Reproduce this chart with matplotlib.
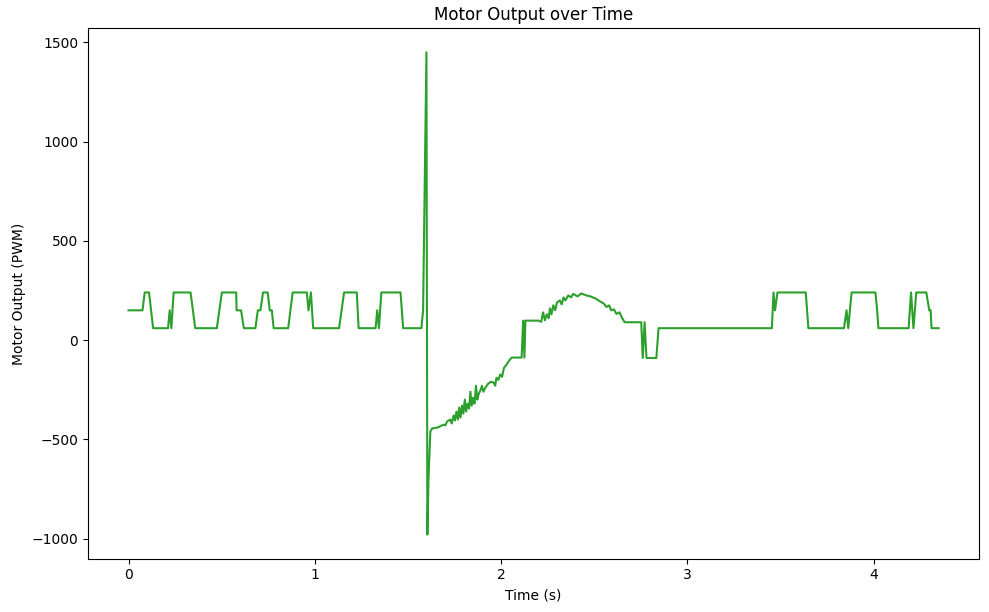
import matplotlib.pyplot as plt

# (time, pwm) samples
time_s = [
    0.0, 0.075, 0.087, 0.11, 0.132, 0.212, 0.221, 0.23, 0.242, 0.333, 0.358,
    0.474, 0.501, 0.578, 0.58, 0.604, 0.619, 0.681, 0.694, 0.708, 0.722,
    0.747, 0.758, 0.769, 0.779, 0.857, 0.881, 0.957, 0.966, 0.979, 0.991,
    1.13, 1.157, 1.225, 1.235, 1.326, 1.335, 1.344, 1.357, 1.46, 1.474,
    1.572, 1.581, 1.599, 1.604, 1.61, 1.62, 1.63, 1.66, 1.69, 1.70, 1.71,
    1.727, 1.735, 1.745, 1.752, 1.76, 1.768, 1.775, 1.782, 1.79, 1.797,
    1.805, 1.812, 1.82, 1.828, 1.835, 1.842, 1.85, 1.857, 1.865, 1.872,
    1.88, 1.89, 1.897, 1.905, 1.915, 1.93, 1.945, 1.96, 1.968, 1.975,
    1.985, 1.995, 2.005, 2.015, 2.03, 2.045, 2.057, 2.11, 2.118, 2.125,
    2.13, 2.17, 2.2, 2.215, 2.225, 2.235, 2.245, 2.255, 2.262, 2.27, 2.28,
    2.29, 2.3, 2.315, 2.325, 2.335, 2.345, 2.36, 2.375, 2.387, 2.41, 2.43,
    2.458, 2.48, 2.51, 2.53, 2.55, 2.565, 2.58, 2.59, 2.605, 2.619, 2.635,
    2.65, 2.663, 2.752, 2.76, 2.77, 2.78, 2.833, 2.845, 3.453, 3.462, 3.47,
    3.483, 3.635, 3.649, 3.84, 3.854, 3.863, 3.881, 4.009, 4.018, 4.025,
    4.187, 4.2, 4.213, 4.228, 4.282, 4.298, 4.305, 4.31, 4.348,
]
motor_pwm = [
    150, 150, 240, 240, 60, 60, 150, 60, 240, 240, 60,
    60, 240, 240, 150, 150, 60, 60, 150, 150, 240,
    240, 150, 150, 60, 60, 240, 240, 150, 240, 60,
    60, 240, 240, 60, 60, 150, 60, 240, 240, 60,
    60, 150, 1450, -980, -700, -460, -445, -440, -426, -430, -410,
    -400, -420, -380, -405, -360, -400, -340, -390, -330, -370,
    -300, -360, -320, -345, -260, -330, -290, -320, -230, -300,
    -270, -250, -230, -260, -240, -220, -210, -214, -230, -190,
    -200, -173, -185, -140, -122, -100, -88, -88, 98, -88,
    98, 98, 98, 92, 140, 100, 130, 110, 160, 130, 175,
    150, 190, 200, 180, 215, 200, 225, 215, 233, 220, 235,
    225, 220, 208, 195, 185, 167, 175, 150, 155, 132, 140,
    110, 90, 90, -90, 90, -90, -90, 60, 60, 240, 150,
    240, 240, 60, 60, 150, 60, 240, 240, 150, 60,
    60, 240, 60, 240, 240, 150, 150, 60, 60,
]

fig, ax = plt.subplots(figsize=(9.89, 6.12), dpi=100)
ax.plot(time_s, motor_pwm, color='#2ca02c', linewidth=1.5)
ax.set_title('Motor Output over Time')
ax.set_xlabel('Time (s)')
ax.set_ylabel('Motor Output (PWM)')
ax.set_yticks([-1000, -500, 0, 500, 1000, 1500])

fig.subplots_adjust(left=0.089, right=0.99, top=0.954, bottom=0.087)
plt.savefig('out.png')
